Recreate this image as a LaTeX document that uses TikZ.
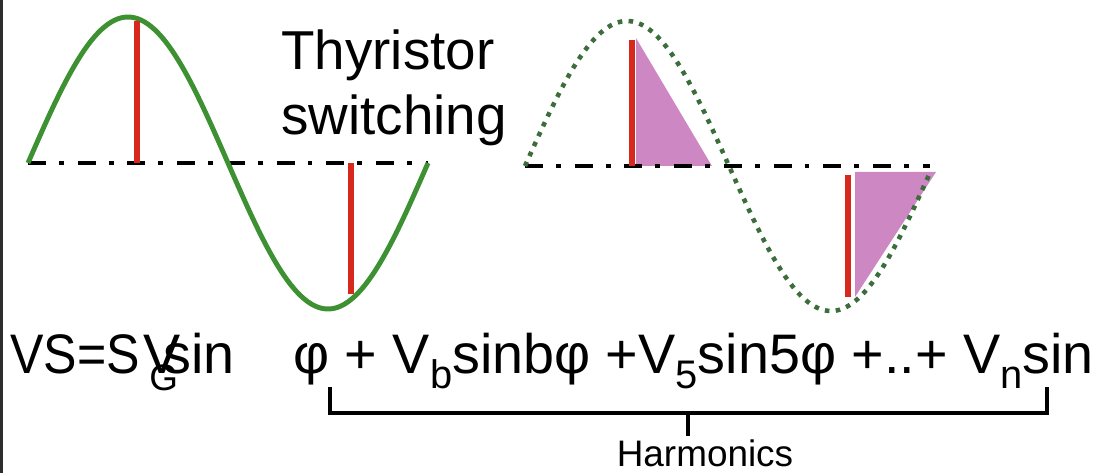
\documentclass[tikz,border=0pt]{standalone}
\usepackage{fontspec}
\setmainfont{Liberation Sans}
\usepackage{graphicx}
\usetikzlibrary{positioning}
\definecolor{wavegreen}{RGB}{62, 145, 50}
\definecolor{dotgreen}{RGB}{60, 110, 60}
\definecolor{switchred}{RGB}{215, 40, 30}
\definecolor{harmpink}{RGB}{205, 135, 195}
\definecolor{framegray}{RGB}{45, 45, 45}
\tikzset{
  wave/.style={draw=wavegreen, line width=2.8pt, line join=round},
  dotwave/.style={draw=dotgreen, line width=2.6pt, dash pattern=on 2.6pt off 3.6pt},
  axisline/.style={draw=black, line width=2.3pt,
                   dash pattern=on 10.2pt off 7.4pt on 2.8pt off 7.9pt},
  switchline/.style={draw=switchred, line width=3.4pt},
  harmfill/.style={fill=harmpink, draw=none},
  bracketline/.style={draw=black, line width=2.2pt},
  thyrtext/.style={inner sep=0pt, anchor=base west, font=\fontsize{31.2}{37}\selectfont},
  eqtext/.style={inner sep=0pt, anchor=base west, font=\fontsize{31.7}{38}\selectfont},
  subtext/.style={inner sep=0pt, anchor=base west, font=\fontsize{21}{25}\selectfont},
  harmtext/.style={inner sep=1.7pt, anchor=base, font=\fontsize{21}{25}\selectfont},
}
\newcommand{\lowsub}[1]{\raisebox{-9pt}{\fontsize{22.7}{27}\selectfont #1}}

\begin{document}
\begin{tikzpicture}[x=0.02cm, y=-0.02cm]
  \useasboundingbox (0,0) rectangle (1100,473);
  \draw[framegray, line width=1.7pt] (1.5,0) -- (1.5,473);

  % Supply voltage
  \draw[axisline] (28,163) -- (428,163);
  \draw[wave] plot[domain=0:360, samples=91, smooth] ({28+\x/0.9}, {163-146*sin(\x)});
  \draw[switchline] (137,163) -- (137,21);
  \draw[switchline] (351,163) -- (351,294);

  % Switched voltage
  \fill[harmfill] (636,38) -- (712,166) -- (636,166) -- cycle;
  \fill[harmfill] (855,172) -- (936,172) -- (855,297) -- cycle;
  \draw[axisline] (525,166) -- (930,166);
  \draw[dotwave] plot[domain=0:357, samples=91, smooth] ({525+\x*1.1333}, {166-145*sin(\x)});
  \draw[switchline] (632,40) -- (632,166);
  \draw[switchline] (848,175) -- (848,297);

  \node[thyrtext] (thyr) at (281,70) {Thyristor};
  \node[thyrtext] (swit) at (281,135) {switching};

  % Series
  \node[eqtext] (eqlhs) at (10,373) {\scalebox{0.9}[1]{VS=S}};
  \node[eqtext] (eqV) at (143,373) {V};
  \node[subtext] (eqG) at (149,390) {G};
  \node[eqtext] (eqsin) at (163,373) {sin};
  \node[eqtext] (eqrhs) at (293,373)
       {φ + V\lowsub{b}sinbφ +V\lowsub{5}sin5φ +..+ V\lowsub{n}sin};

  % Harmonics bracket
  \coordinate (brL) at (330,387);
  \coordinate (brR) at (1047,387);
  \coordinate (brM) at (688,413);
  \draw[bracketline] (brL) |- (brM) -| (brR);
  \node[harmtext] (harm) at (705,466) {Harmonics};
  \draw[bracketline] (brM) -- (harm.north -| brM);
\end{tikzpicture}
\end{document}
